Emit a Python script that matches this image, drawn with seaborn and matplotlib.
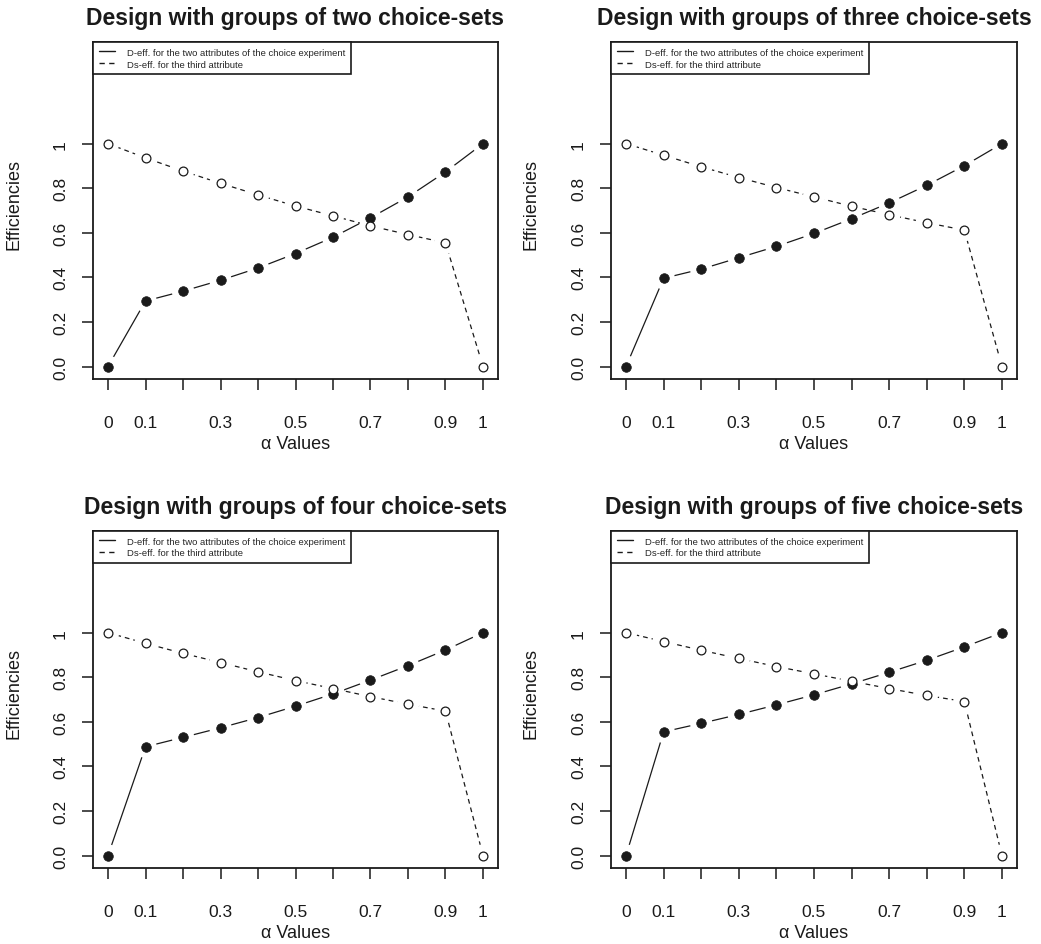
import numpy as np
import pandas as pd
import matplotlib
matplotlib.use("Agg")
import matplotlib.pyplot as plt
import seaborn as sns
from matplotlib.lines import Line2D

# ---------------- data ----------------
alpha_values = [0.0, 0.1, 0.2, 0.3, 0.4, 0.5, 0.6, 0.7, 0.8, 0.9, 1.0]

panel_titles = [
    "Design with groups of two choice-sets",
    "Design with groups of three choice-sets",
    "Design with groups of four choice-sets",
    "Design with groups of five choice-sets",
]

d_eff_two = [0.0, 0.294, 0.338, 0.387, 0.442, 0.507, 0.580, 0.667, 0.761, 0.873, 1.0]
ds_eff_two = [1.0, 0.936, 0.877, 0.822, 0.770, 0.720, 0.676, 0.631, 0.592, 0.555, 0.0]

d_eff_three = [0.0, 0.396, 0.437, 0.488, 0.539, 0.597, 0.663, 0.734, 0.813, 0.901, 1.0]
ds_eff_three = [1.0, 0.948, 0.896, 0.848, 0.803, 0.761, 0.719, 0.681, 0.645, 0.612, 0.0]

d_eff_four = [0.0, 0.488, 0.530, 0.573, 0.619, 0.670, 0.725, 0.787, 0.852, 0.922, 1.0]
ds_eff_four = [1.0, 0.952, 0.907, 0.866, 0.824, 0.785, 0.749, 0.713, 0.679, 0.648, 0.0]

d_eff_five = [0.0, 0.555, 0.593, 0.633, 0.676, 0.721, 0.770, 0.822, 0.876, 0.936, 1.0]
ds_eff_five = [1.0, 0.960, 0.921, 0.884, 0.848, 0.815, 0.782, 0.749, 0.718, 0.691, 0.0]

x_tick_labels = ["0", "0.1", "", "0.3", "", "0.5", "", "0.7", "", "0.9", "1"]
y_tick_values = [0.0, 0.2, 0.4, 0.6, 0.8, 1.0]
y_tick_labels = ["0.0", "0.2", "0.4", "0.6", "0.8", "1"]

legend_labels = [
    "D-eff. for the two attributes of the choice experiment",
    "Ds-eff. for the third attribute",
]
x_label = "\u03b1 Values"
y_label = "Efficiencies"

d_series = [d_eff_two, d_eff_three, d_eff_four, d_eff_five]
ds_series = [ds_eff_two, ds_eff_three, ds_eff_four, ds_eff_five]

# ---------------- style ----------------
sns.set_theme(style="white")
plt.rcParams["font.family"] = ["Liberation Sans", "DejaVu Sans"]

W, H = 1041, 945
fig = plt.figure(figsize=(W / 100, H / 100), dpi=100)

# axes boxes in pixels: (left, top, right, bottom)
boxes = [
    (93, 43, 498, 380),
    (611, 43, 1017, 380),
    (93, 532, 498, 869),
    (611, 532, 1017, 869),
]

ink = "#1a1a1a"
dash = (0, (3.8, 3.2))

for i, (l, t, r, b) in enumerate(boxes):
    ax = fig.add_axes([l / W, 1 - b / H, (r - l) / W, (b - t) / H])
    df = pd.DataFrame({"alpha": alpha_values, "d": d_series[i], "ds": ds_series[i]})

    sns.lineplot(data=df, x="alpha", y="d", ax=ax, color=ink, lw=0.9,
                 linestyle="-", zorder=1, errorbar=None)
    sns.lineplot(data=df, x="alpha", y="ds", ax=ax, color=ink, lw=0.9,
                 linestyle=dash, zorder=1, errorbar=None)
    # white halos (R type="b" gaps around points)
    for col in ["d", "ds"]:
        sns.scatterplot(data=df, x="alpha", y=col, ax=ax, s=260, color="white",
                        edgecolor="none", linewidth=0, zorder=2)
    sns.scatterplot(data=df, x="alpha", y="d", ax=ax, s=48, color=ink,
                    edgecolor=ink, linewidth=0.5, zorder=3)
    sns.scatterplot(data=df, x="alpha", y="ds", ax=ax, s=40, color="white",
                    edgecolor=ink, linewidth=0.9, zorder=3)

    ax.set_xlim(-0.04, 1.04)
    ax.set_ylim(-0.056, 1.456)
    ax.set_xticks(alpha_values)
    ax.set_xticklabels(x_tick_labels)
    ax.set_yticks(y_tick_values)
    ax.set_yticklabels(y_tick_labels, rotation=90, va="center")

    for sp in ax.spines.values():
        sp.set_visible(True)
        sp.set_color(ink)
        sp.set_linewidth(1.3)

    ax.tick_params(axis="both", direction="out", length=8, width=1.1,
                   color=ink, labelcolor=ink, labelsize=12.5)
    ax.tick_params(axis="x", pad=18, bottom=True)
    ax.tick_params(axis="y", pad=10, left=True)

    ax.set_xlabel(x_label, fontsize=13, color=ink)
    ax.set_ylabel(y_label, fontsize=13, color=ink)
    ax.xaxis.set_label_coords(0.5, -0.165)
    ax.yaxis.set_label_coords(-0.175, 0.52)

    ax.set_title(panel_titles[i], fontsize=16.5, fontweight="bold", color=ink, pad=13)

    handles = [Line2D([], [], color=ink, lw=1.0, linestyle="-"),
               Line2D([], [], color=ink, lw=1.0, linestyle=dash)]
    leg = ax.legend(handles, legend_labels, loc="upper left", bbox_to_anchor=(0, 1),
                    borderaxespad=0, fontsize=6.8, frameon=True, fancybox=False,
                    framealpha=1, edgecolor=ink, handlelength=1.7,
                    handletextpad=1.3, borderpad=0.6, labelspacing=0.3)
    leg.get_frame().set_linewidth(1.2)

fig.savefig("out.png", dpi=100)
